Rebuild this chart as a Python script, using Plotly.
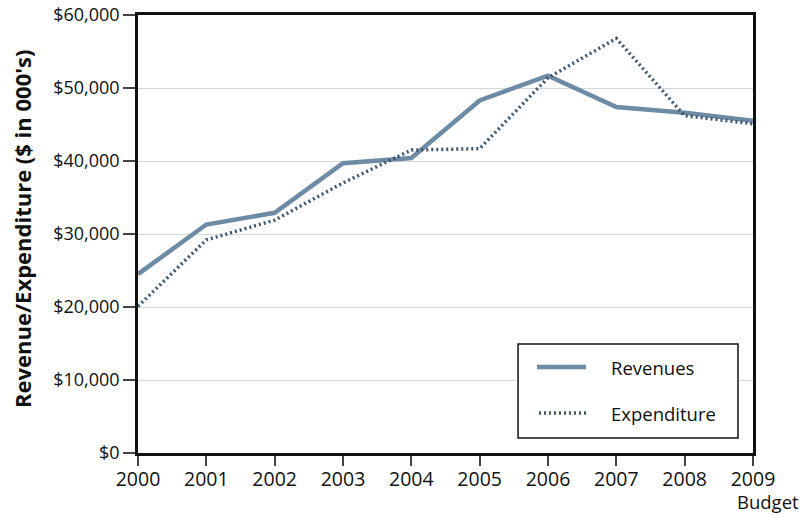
import plotly.graph_objects as go

years = ["2000", "2001", "2002", "2003", "2004", "2005", "2006", "2007", "2008", "2009"]
revenues = [24500, 31300, 32900, 39700, 40400, 48300, 51700, 47400, 46600, 45500]
expenditure = [20100, 29200, 31900, 37000, 41500, 41700, 51400, 56800, 46200, 45100]
y_ticks = [0, 10000, 20000, 30000, 40000, 50000, 60000]
y_tick_text = ["$0", "$10,000", "$20,000", "$30,000", "$40,000", "$50,000", "$60,000"]

FONT = "Open Sans"
INK = "#111111"
REV_COLOR = "#6d8ba5"
EXP_COLOR = "#3c566c"

fig = go.Figure()
fig.add_trace(go.Scatter(
    x=years, y=revenues, name="Revenues", mode="lines",
    line=dict(color=REV_COLOR, width=4.5),
))
fig.add_trace(go.Scatter(
    x=years, y=expenditure, name="Expenditure", mode="lines",
    line=dict(color=EXP_COLOR, width=3.5, dash="2px,3px"),
))

# boxed legend drawn in paper coordinates
legend_shapes = [
    dict(type="rect", xref="paper", yref="paper", x0=0.618, x1=0.9756, y0=0.0342, y1=0.2489,
         line=dict(color=INK, width=1.5), fillcolor="white", layer="above"),
    dict(type="line", xref="paper", yref="paper", x0=0.6488, x1=0.7285, y0=0.1963, y1=0.1963,
         line=dict(color=REV_COLOR, width=4.5), layer="above"),
    dict(type="line", xref="paper", yref="paper", x0=0.6520, x1=0.7285, y0=0.0913, y1=0.0913,
         line=dict(color=EXP_COLOR, width=3.5, dash="2px,3px"), layer="above"),
]
annotations = [
    dict(text="Revenues", xref="paper", yref="paper", x=0.7659, y=0.1963,
         xanchor="left", yanchor="middle", showarrow=False, font=dict(size=18.5)),
    dict(text="Expenditure", xref="paper", yref="paper", x=0.7659, y=0.0913,
         xanchor="left", yanchor="middle", showarrow=False, font=dict(size=18.5)),
    dict(text="Budget", xref="paper", yref="paper", x=0.9707, y=-0.111,
         xanchor="left", yanchor="middle", showarrow=False, font=dict(size=18.5)),
    dict(text="<b>Revenue/Expenditure ($ in 000's)</b>", xref="paper", yref="paper",
         x=-0.189, y=0.511, xanchor="center", yanchor="middle", textangle=-90,
         showarrow=False, font=dict(size=22)),
]

fig.update_layout(
    width=805, height=515,
    margin=dict(l=138, r=52, t=15, b=62),
    paper_bgcolor="white", plot_bgcolor="white",
    font=dict(family=FONT, size=18, color=INK),
    showlegend=False,
    shapes=legend_shapes,
    annotations=annotations,
)
fig.update_xaxes(
    type="category", tickvals=years, ticktext=years, automargin=False,
    range=[0, 9], showline=True, linecolor=INK, linewidth=2.5,
    mirror=True, ticks="outside", ticklen=10, tickcolor="#444444", tickwidth=1.5,
    showgrid=False, zeroline=False, tickfont=dict(size=19.5), ticklabelstandoff=-3,
)
fig.update_yaxes(
    range=[0, 60000], tickvals=y_ticks, ticktext=y_tick_text, automargin=False,
    showline=True, linecolor=INK, linewidth=2.5, mirror=True,
    ticks="outside", ticklen=12, tickcolor="#444444", tickwidth=1.5,
    showgrid=True, gridcolor="#d6d6d6", gridwidth=1, zeroline=False,
    tickfont=dict(size=18),
)

fig.write_html("out.html")
